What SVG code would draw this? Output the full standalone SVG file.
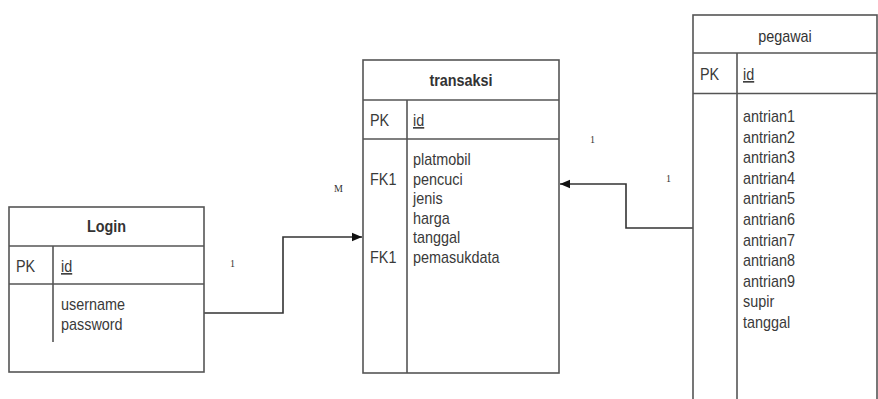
<svg xmlns="http://www.w3.org/2000/svg" width="878" height="399" viewBox="0 0 878 399">
<style>
.box{fill:#fff;stroke:#555;stroke-width:1.6}
.ln{stroke:#555;stroke-width:1.6;fill:none}
.t{font-family:"Liberation Sans",Arial,sans-serif;font-size:16px;fill:#3a3a3a}
.ttl{font-family:"Liberation Sans",Arial,sans-serif;font-size:16px;fill:#333;text-anchor:middle}
.b{font-weight:bold}
.u{text-decoration:underline}
.lbl{font-family:"Liberation Serif","Times New Roman",serif;font-size:10px;fill:#333}
.c{stroke:#333;stroke-width:1.6;fill:none}
</style>
<defs>
<marker id="arr" viewBox="0 0 10 10" refX="10" refY="5" markerWidth="10" markerHeight="10" markerUnits="userSpaceOnUse" orient="auto">
<path d="M0,0.8 L10,5 L0,9.2 Z" fill="#111"/>
</marker>
</defs>
<rect width="878" height="399" fill="#fff"/>
<g id="connectors">
<polyline class="c" points="204,313 283,313 283,237 362,237" marker-end="url(#arr)"/>
<polyline class="c" points="693,228 626,228 626,184 560,184" marker-end="url(#arr)"/>
<text class="lbl" x="230" y="267">1</text>
<text class="lbl" x="334" y="192">M</text>
<text class="lbl" x="590" y="143">1</text>
<text class="lbl" x="666" y="182">1</text>
</g>
<g id="login">
<rect class="box" x="9" y="207" width="195" height="165"/>
<line class="ln" x1="9" y1="246" x2="204" y2="246"/>
<line class="ln" x1="9" y1="284" x2="204" y2="284"/>
<line class="ln" x1="53" y1="246" x2="53" y2="342"/>
<g transform="translate(106.5,0) scale(0.9,1)"><text class="ttl b" x="0" y="232">Login</text></g>
<g transform="translate(16,0) scale(0.9,1)"><text class="t" x="0" y="272">PK</text></g>
<g transform="translate(61,0) scale(0.9,1)">
<text class="t u" x="0" y="272">id</text>
<text class="t" x="0" y="310">username</text>
<text class="t" x="0" y="330">password</text>
</g>
</g>
<g id="transaksi">
<rect class="box" x="363" y="60" width="196" height="313"/>
<line class="ln" x1="363" y1="100" x2="559" y2="100"/>
<line class="ln" x1="363" y1="139" x2="559" y2="139"/>
<line class="ln" x1="407" y1="100" x2="407" y2="373"/>
<g transform="translate(461,0) scale(0.9,1)"><text class="ttl b" x="0" y="86">transaksi</text></g>
<g transform="translate(370,0) scale(0.9,1)">
<text class="t" x="0" y="126">PK</text>
<text class="t" x="0" y="185">FK1</text>
<text class="t" x="0" y="263">FK1</text>
</g>
<g transform="translate(413,0) scale(0.9,1)">
<text class="t u" x="0" y="126">id</text>
<text class="t" x="0" y="165.5">platmobil</text>
<text class="t" x="0" y="185">pencuci</text>
<text class="t" x="0" y="204.5">jenis</text>
<text class="t" x="0" y="224">harga</text>
<text class="t" x="0" y="243.5">tanggal</text>
<text class="t" x="0" y="263">pemasukdata</text>
</g>
</g>
<g id="pegawai">
<rect class="box" x="693" y="15" width="184" height="400"/>
<line class="ln" x1="693" y1="53" x2="877" y2="53"/>
<line class="ln" x1="693" y1="93.5" x2="877" y2="93.5"/>
<line class="ln" x1="737" y1="53" x2="737" y2="399"/>
<g transform="translate(785,0) scale(0.9,1)"><text class="ttl" x="0" y="42">pegawai</text></g>
<g transform="translate(700,0) scale(0.9,1)"><text class="t" x="0" y="80">PK</text></g>
<g transform="translate(743,0) scale(0.9,1)">
<text class="t u" x="0" y="80">id</text>
<text class="t" x="0" y="122">antrian1</text>
<text class="t" x="0" y="142.6">antrian2</text>
<text class="t" x="0" y="163.2">antrian3</text>
<text class="t" x="0" y="183.8">antrian4</text>
<text class="t" x="0" y="204.4">antrian5</text>
<text class="t" x="0" y="225">antrian6</text>
<text class="t" x="0" y="245.6">antrian7</text>
<text class="t" x="0" y="266.2">antrian8</text>
<text class="t" x="0" y="286.8">antrian9</text>
<text class="t" x="0" y="307.4">supir</text>
<text class="t" x="0" y="328">tanggal</text>
</g>
</g>
</svg>
